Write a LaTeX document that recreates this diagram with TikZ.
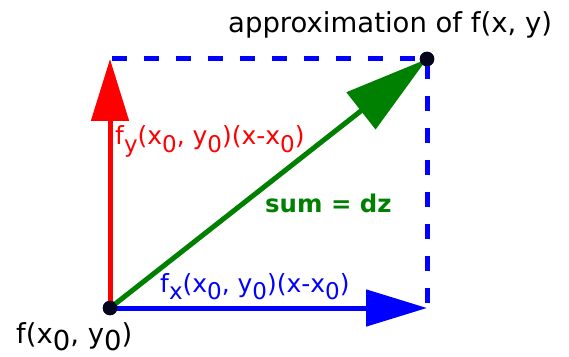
\documentclass[tikz,border=0pt]{standalone}
\usepackage{fontspec}
\setmainfont{DejaVu Sans}
\usetikzlibrary{arrows.meta}
\definecolor{mygreen}{RGB}{0,128,0}
\definecolor{dotcol}{RGB}{5,5,30}
\newcommand\sbs[1]{\raisebox{-0.3em}{\fontsize{23}{23}\selectfont #1}}
\newcommand\sbb[1]{\raisebox{-7pt}{#1}}
\tikzset{
  lbl/.style={anchor=base west, inner sep=0pt, font=\fontsize{25}{30}\selectfont},
  blbl/.style={anchor=base west, inner sep=0pt, font=\fontsize{27.5}{32}\selectfont},
  dotnode/.style={circle, fill=dotcol, minimum size=14.5pt, inner sep=0pt},
  vec/.style={line width=5pt},
  dashline/.style={line width=5pt, draw=blue, dash pattern=on 15pt off 17pt},
}
\begin{document}
\begin{tikzpicture}[x=1pt,y=1pt]
\useasboundingbox (0,0) rectangle (569,356);
\coordinate (q) at (110,297);
\coordinate (r) at (427,48);
\coordinate (qs) at (112,297);
\node[dotnode] (o) at (110,48) {};
\node[dotnode] (p) at (427,297) {};
\draw[dashline] (qs) -- (p.center) -- (r);
\draw[vec, blue, -{Triangle[length=61pt,width=36pt]}] (o.center) -- (r);
\draw[vec, red, -{Triangle[length=62pt,width=37pt]}] (o.center) -- (q);
\draw[vec, mygreen, -{Triangle[length=84pt,width=46pt]}] (o.center) -- (p.center);
\node[dotnode] at (o.center) {};
\node[dotnode] at (p.center) {};
\node[blbl, black] (t1) at (228,323) {approximation of f(x, y)};
\node[blbl, black] (t2) at (16,13) {f(x\sbb{0}, y\sbb{0})};
\node[lbl, blue] (t3) at (160,64) {f\sbs{x}(x\sbs{0}, y\sbs{0})(x-x\sbs{0})};
\node[lbl, red] (t4) at (115,211) {f\sbs{y}(x\sbs{0}, y\sbs{0})(x-x\sbs{0})};
\node[lbl, mygreen, font=\fontsize{24.4}{28}\bfseries] (t5) at (265,143) {sum = dz};
\end{tikzpicture}
\end{document}
